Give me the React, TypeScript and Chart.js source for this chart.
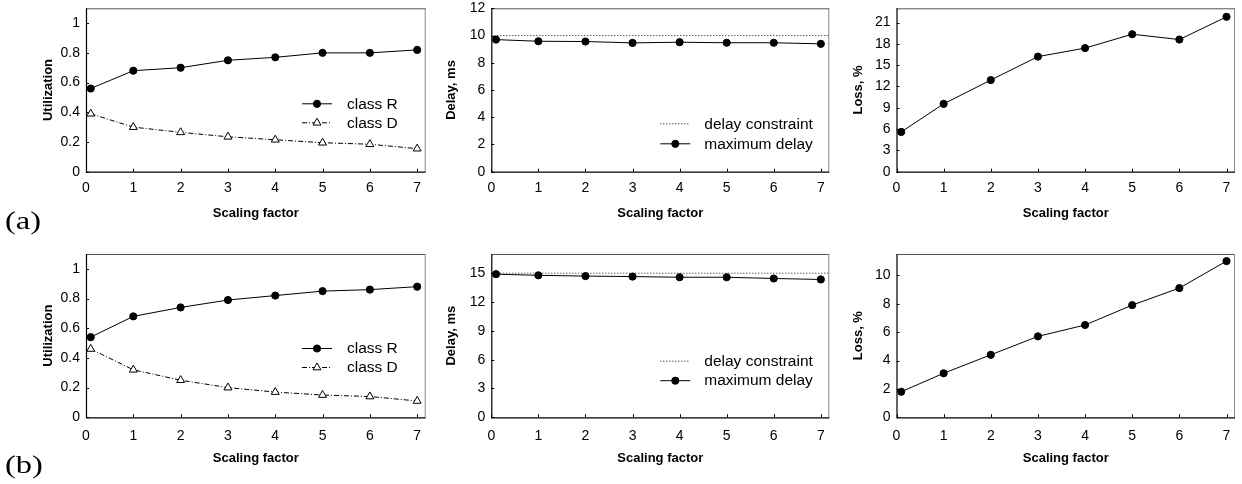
import React, { useEffect, useRef } from "react";
import { Chart, registerables } from "chart.js";

Chart.register(...registerables);

// ---------- data ----------
const scalingFactors = [0.1, 1, 2, 3, 4, 5, 6, 7];
const X_MIN = 0;
const X_MAX = 7.18;

const utilR_a = [0.56, 0.68, 0.7, 0.75, 0.77, 0.8, 0.8, 0.82];
const utilD_a = [0.39, 0.3, 0.265, 0.235, 0.215, 0.195, 0.185, 0.155];
const delayMax_a = [9.7, 9.58, 9.56, 9.46, 9.51, 9.47, 9.47, 9.39];
const delayConstraint_a = 10;
const loss_a = [5.6, 9.55, 12.9, 16.2, 17.4, 19.35, 18.6, 21.8];

const utilR_b = [0.54, 0.68, 0.74, 0.79, 0.82, 0.85, 0.86, 0.88];
const utilD_b = [0.46, 0.32, 0.25, 0.2, 0.17, 0.15, 0.14, 0.11];
const delayMax_b = [14.9, 14.78, 14.7, 14.65, 14.58, 14.58, 14.45, 14.35];
const delayConstraint_b = 15;
const loss_b = [1.8, 3.1, 4.4, 5.7, 6.5, 7.9, 9.1, 11.0];

const xTitle = "Scaling factor";
const rowLabels = ["(a)", "(b)"];

// ---------- styling helpers ----------
const FONT = '"Liberation Sans", Arial, Helvetica, sans-serif';
const TICK_SIZE = 14;
const TITLE_SIZE = 13;
const pts = (arr: number[]) => scalingFactors.map((x, i) => ({ x, y: arr[i] }));
const flat = (v: number) => [
  { x: X_MIN, y: v },
  { x: X_MAX, y: v },
];

const DASHDOT = [5, 2, 1, 2];
const DOTTED = [1, 2];

function classR(data: number[]) {
  return {
    label: "class R",
    data: pts(data),
    borderColor: "#000",
    borderWidth: 1,
    pointStyle: "circle",
    pointRadius: 3.6,
    pointBackgroundColor: "#000",
    pointBorderColor: "#000",
    pointBorderWidth: 1,
    tension: 0,
    _legend: { dash: [], marker: "circle" },
  };
}
function classD(data: number[]) {
  return {
    label: "class D",
    data: pts(data),
    borderColor: "#000",
    borderWidth: 1,
    borderDash: DASHDOT,
    pointStyle: "triangle",
    pointRadius: 4.6,
    pointBackgroundColor: "#fff",
    pointBorderColor: "#000",
    pointBorderWidth: 1,
    tension: 0,
    _legend: { dash: DASHDOT, marker: "triangle" },
  };
}
function constraint(v: number) {
  return {
    label: "delay constraint",
    data: flat(v),
    borderColor: "#111",
    borderWidth: 1,
    borderDash: DOTTED,
    pointRadius: 0,
    tension: 0,
    order: 2,
    _legend: { dash: DOTTED, marker: null },
  };
}
function maxDelay(data: number[]) {
  return {
    label: "maximum delay",
    data: pts(data),
    borderColor: "#000",
    borderWidth: 1,
    pointStyle: "circle",
    pointRadius: 3.6,
    pointBackgroundColor: "#000",
    pointBorderColor: "#000",
    pointBorderWidth: 1,
    tension: 0,
    order: 1,
    _legend: { dash: [], marker: "circle" },
  };
}
function loss(data: number[]) {
  return {
    label: "loss",
    data: pts(data),
    borderColor: "#000",
    borderWidth: 1,
    pointStyle: "circle",
    pointRadius: 3.6,
    pointBackgroundColor: "#000",
    pointBorderColor: "#000",
    pointBorderWidth: 1,
    tension: 0,
  };
}

// ---------- layout ----------
type PanelCfg = {
  canvas: { l: number; t: number; w: number; h: number };
  plot: { l: number; t: number; r: number; b: number };
  yMax: number;
  yStep: number;
  yTitle: string;
  yTitleX: number;
  xTitleY: number;
  xTickPad: number;
  datasets: any[];
  legend?: { x: number; y: number; gap: number; len: number; textGap: number };
};

const ROW1 = { t: 0, h: 242, plotT: 8.3, plotB: 171.7, titleY: 213.3, tickPad: 8.5 };
const ROW2 = { t: 242, h: 242, plotT: 254, plotB: 417.3, titleY: 458.6, tickPad: 10 };
const COLS = [
  { l: 0, w: 440, plotL: 86, plotR: 425.7, yTitleX: 48.3 },
  { l: 435, w: 405, plotL: 491.3, plotR: 829.3, yTitleX: 451.7 },
  { l: 840, w: 402, plotL: 896.5, plotR: 1235, yTitleX: 858.3 },
];

function mk(row: any, col: any, rest: any): PanelCfg {
  return {
    canvas: { l: col.l, t: row.t, w: col.w, h: row.h },
    plot: { l: col.plotL, t: row.plotT, r: col.plotR, b: row.plotB },
    yTitleX: col.yTitleX,
    xTitleY: row.titleY,
    xTickPad: row.tickPad,
    ...rest,
  };
}

const PANELS: PanelCfg[] = [
  mk(ROW1, COLS[0], {
    yMax: 1.1, yStep: 0.2, yTitle: "Utilization",
    datasets: [classR(utilR_a), classD(utilD_a)],
    legend: { x: 216, y: 95, gap: 19, len: 30, textGap: 15 },
  }),
  mk(ROW1, COLS[1], {
    yMax: 12, yStep: 2, yTitle: "Delay, ms",
    datasets: [constraint(delayConstraint_a), maxDelay(delayMax_a)],
    legend: { x: 169, y: 115, gap: 20, len: 30, textGap: 14 },
  }),
  mk(ROW1, COLS[2], {
    yMax: 23, yStep: 3, yTitle: "Loss, %",
    datasets: [loss(loss_a)],
  }),
  mk(ROW2, COLS[0], {
    yMax: 1.1, yStep: 0.2, yTitle: "Utilization",
    datasets: [classR(utilR_b), classD(utilD_b)],
    legend: { x: 216, y: 94, gap: 19, len: 30, textGap: 15 },
  }),
  mk(ROW2, COLS[1], {
    yMax: 17, yStep: 3, yTitle: "Delay, ms",
    datasets: [constraint(delayConstraint_b), maxDelay(delayMax_b)],
    legend: { x: 169, y: 106.7, gap: 19.5, len: 30, textGap: 14 },
  }),
  mk(ROW2, COLS[2], {
    yMax: 11.5, yStep: 2, yTitle: "Loss, %",
    datasets: [loss(loss_b)],
  }),
];

// ---------- plugins ----------
function drawMarker(ctx: CanvasRenderingContext2D, kind: string | null, x: number, y: number) {
  if (!kind) return;
  ctx.save();
  ctx.setLineDash([]);
  ctx.lineWidth = 1;
  ctx.strokeStyle = "#000";
  ctx.beginPath();
  if (kind === "circle") {
    ctx.fillStyle = "#000";
    ctx.arc(x, y, 3.6, 0, Math.PI * 2);
    ctx.fill();
    ctx.stroke();
  } else {
    const r = 4.6;
    let a = 0;
    ctx.fillStyle = "#fff";
    ctx.moveTo(x + Math.sin(a) * r, y - Math.cos(a) * r);
    a += (2 * Math.PI) / 3;
    ctx.lineTo(x + Math.sin(a) * r, y - Math.cos(a) * r);
    a += (2 * Math.PI) / 3;
    ctx.lineTo(x + Math.sin(a) * r, y - Math.cos(a) * r);
    ctx.closePath();
    ctx.fill();
    ctx.stroke();
  }
  ctx.restore();
}

const framePlugin = {
  id: "paperFrame",
  beforeDatasetsDraw(chart: any) {
    const { ctx, chartArea: a, scales } = chart;
    ctx.save();
    ctx.lineWidth = 1;
    ctx.strokeStyle = "#555";
    ctx.beginPath();
    ctx.moveTo(a.left, a.top + 0.5);
    ctx.lineTo(a.right, a.top + 0.5);
    ctx.stroke();
    ctx.strokeStyle = "#888";
    ctx.beginPath();
    ctx.moveTo(a.right - 0.5, a.top);
    ctx.lineTo(a.right - 0.5, a.bottom);
    ctx.stroke();
    ctx.strokeStyle = "#000";
    ctx.lineWidth = 1.2;
    ctx.beginPath();
    ctx.moveTo(a.left + 0.5, a.top);
    ctx.lineTo(a.left + 0.5, a.bottom + 0.5);
    ctx.lineTo(a.right, a.bottom + 0.5);
    ctx.stroke();
    ctx.lineWidth = 1;
    ctx.beginPath();
    scales.x.ticks.forEach((t: any) => {
      const px = Math.round(scales.x.getPixelForValue(t.value)) + 0.5;
      ctx.moveTo(px, a.bottom);
      ctx.lineTo(px, a.bottom - 3);
    });
    scales.y.ticks.forEach((t: any) => {
      const py = Math.round(scales.y.getPixelForValue(t.value)) + 0.5;
      ctx.moveTo(a.left, py);
      ctx.lineTo(a.left + 3, py);
    });
    ctx.stroke();
    ctx.restore();
  },
  afterDraw(chart: any) {
    const lg = chart.options.plugins.paperFrame?.legend;
    if (!lg) return;
    const { ctx, chartArea: a } = chart;
    chart.data.datasets.forEach((ds: any, i: number) => {
      if (!ds._legend) return;
      const y = a.top + lg.y + i * lg.gap;
      const x0 = a.left + lg.x;
      ctx.save();
      ctx.strokeStyle = "#000";
      ctx.lineWidth = 1;
      ctx.setLineDash(ds._legend.dash);
      ctx.beginPath();
      ctx.moveTo(x0, y + 0.5);
      ctx.lineTo(x0 + lg.len, y + 0.5);
      ctx.stroke();
      ctx.restore();
      drawMarker(ctx, ds._legend.marker, x0 + lg.len / 2, y + 0.5);
      ctx.save();
      ctx.fillStyle = "#000";
      ctx.font = `15.5px ${FONT}`;
      ctx.textBaseline = "middle";
      ctx.textAlign = "left";
      ctx.fillText(ds.label, x0 + lg.len + lg.textGap, y + 1);
      ctx.restore();
    });
  },
};

const fmt = (v: number) => String(Number(Number(v).toFixed(2)));

function Panel({ cfg }: { cfg: PanelCfg }) {
  const ref = useRef<HTMLCanvasElement>(null);
  useEffect(() => {
    const { canvas: c, plot: p } = cfg;
    const yAxisW = p.l - c.l;
    const xAxisH = c.t + c.h - p.b;
    const titleLH = TITLE_SIZE * 1.2;
    const chart = new Chart(ref.current as HTMLCanvasElement, {
      type: "line",
      data: { datasets: cfg.datasets as any },
      plugins: [framePlugin as any],
      options: {
        animation: false,
        responsive: false,
        devicePixelRatio: 1,
        events: [],
        layout: {
          padding: { left: 0, top: p.t - c.t, right: c.l + c.w - p.r, bottom: 0 },
        },
        plugins: {
          legend: { display: false },
          tooltip: { enabled: false },
          paperFrame: { legend: cfg.legend },
        } as any,
        scales: {
          x: {
            type: "linear",
            min: X_MIN,
            max: X_MAX,
            afterFit: (s: any) => {
              s.height = xAxisH;
              s.paddingLeft = 0;
              s.paddingRight = 0;
              s.paddingTop = 0;
              s.paddingBottom = 0;
            },
            grid: { display: false, drawTicks: false },
            border: { display: false },
            ticks: {
              stepSize: 1,
              includeBounds: false,
              padding: cfg.xTickPad,
              color: "#000",
              font: { family: FONT, size: TICK_SIZE },
              maxRotation: 0,
              callback: (v: any) => fmt(v),
            },
            title: {
              display: true,
              text: xTitle,
              color: "#000",
              font: { family: FONT, size: TITLE_SIZE, weight: "bold" },
              padding: { top: 0, bottom: c.t + c.h - cfg.xTitleY - titleLH / 2 },
            },
          },
          y: {
            type: "linear",
            min: 0,
            max: cfg.yMax,
            afterFit: (s: any) => {
              s.width = yAxisW;
              s.paddingLeft = 0;
              s.paddingRight = 0;
              s.paddingTop = 0;
              s.paddingBottom = 0;
            },
            grid: { display: false, drawTicks: false },
            border: { display: false },
            ticks: {
              stepSize: cfg.yStep,
              includeBounds: false,
              padding: 6,
              color: "#000",
              font: { family: FONT, size: TICK_SIZE },
              callback: (v: any) => fmt(v),
            },
            title: {
              display: true,
              text: cfg.yTitle,
              color: "#000",
              font: { family: FONT, size: TITLE_SIZE, weight: "bold" },
              padding: { top: cfg.yTitleX - c.l - titleLH / 2, bottom: 0 },
            },
          },
        },
      } as any,
    });
    return () => chart.destroy();
  }, [cfg]);
  const c = cfg.canvas;
  return (
    <canvas
      ref={ref}
      width={c.w}
      height={c.h}
      style={{ position: "absolute", left: c.l, top: c.t, width: c.w, height: c.h }}
    />
  );
}

export default function App() {
  return (
    <div
      style={{
        position: "absolute",
        left: 0,
        top: 0,
        width: 1242,
        height: 484,
        background: "#fff",
        overflow: "hidden",
      }}
    >
      {PANELS.map((cfg, i) => (
        <Panel key={i} cfg={cfg} />
      ))}
      {rowLabels.map((t, i) => (
        <div
          key={t}
          style={{
            position: "absolute",
            left: 5,
            top: i === 0 ? 206 : 450,
            fontFamily: '"Liberation Serif", "Times New Roman", serif',
            fontSize: 26,
            lineHeight: "30px",
            color: "#000",
            transform: "scaleX(1.25)",
            transformOrigin: "left center",
          }}
        >
          {t}
        </div>
      ))}
    </div>
  );
}
